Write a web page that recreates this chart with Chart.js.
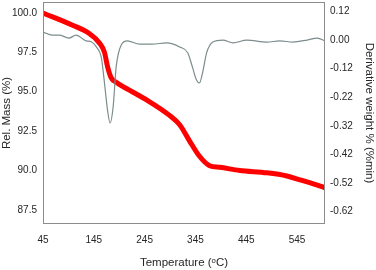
<!DOCTYPE html>
<html>
<head>
<meta charset="utf-8">
<script src="https://cdn.jsdelivr.net/npm/chart.js@4.4.0/dist/chart.umd.min.js"></script>
<style>
  html, body { margin: 0; padding: 0; background: #fff; }
  #wrap { width: 376px; height: 270px; position: relative; }
</style>
</head>
<body>
<div id="wrap"><canvas id="tga" width="376" height="270"></canvas></div>
<script>
// TGA curve (left axis)
const massTemps = [45, 102, 136, 156, 166, 172, 179, 189, 215, 248, 294, 314, 333, 353, 373, 393, 432, 486, 525, 551, 577, 600];
const massValues = [100.0, 99.24, 98.7, 98.1, 97.5, 96.6, 95.9, 95.6, 95.1, 94.5, 93.5, 92.9, 91.9, 90.9, 90.3, 90.2, 90.0, 89.85, 89.65, 89.4, 89.15, 88.9];

// DTG curve (right axis, in axis units where tick "0.00" = 0)
const derivTemps = [45, 63, 77, 96, 110, 130, 140, 150, 160, 166, 172, 177, 183, 189, 199, 211, 235, 260, 288, 314, 330, 339, 347, 353, 359, 367, 379, 399, 419, 446, 486, 511, 537, 565, 585, 600];
const derivValues = [0.028, 0.017, 0.017, 0.007, 0.017, -0.003, -0.006, -0.024, -0.063, -0.15, -0.245, -0.29, -0.234, -0.094, -0.017, -0.003, -0.014, -0.014, -0.01, -0.024, -0.045, -0.094, -0.14, -0.15, -0.115, -0.045, -0.007, 0.0, -0.01, 0.0, -0.007, -0.003, -0.007, 0.0, 0.007, -0.003];

const xTicks = [45, 145, 245, 345, 445, 545];
const leftTicks = [87.5, 90.0, 92.5, 95.0, 97.5, 100.0];
const rightTickPos = [0.1, 0, -0.1, -0.2, -0.3, -0.4, -0.5, -0.6];
const rightTickLabels = ['0.12', '0.00', '-0.12', '-0.22', '-0.32', '-0.42', '-0.52', '-0.62'];

const textColor = '#262626';
const frameColor = '#8c8c8c';
const font = { family: 'Liberation Sans', size: 10 };

const frame = {
  id: 'frame',
  afterDraw(chart) {
    const a = chart.chartArea, c = chart.ctx;
    c.save();
    c.strokeStyle = frameColor;
    c.lineWidth = 1;
    c.strokeRect(a.left + 0.5, a.top + 0.5, a.right - a.left - 1, a.bottom - a.top - 1);
    c.restore();
  }
};

function fitY(w) {
  return s => { s.width = w; s.paddingTop = 0; s.paddingBottom = 0; };
}

new Chart(document.getElementById('tga'), {
  type: 'line',
  data: {
    datasets: [
      {
        label: 'DTG',
        data: derivTemps.map((t, i) => ({ x: t, y: derivValues[i] })),
        yAxisID: 'y2',
        borderColor: '#7d8c8c',
        borderWidth: 1.2,
        pointRadius: 0,
        cubicInterpolationMode: 'monotone'
      },
      {
        label: 'Mass',
        data: massTemps.map((t, i) => ({ x: t, y: massValues[i] })),
        yAxisID: 'y',
        borderColor: '#ff0000',
        borderWidth: 5,
        pointRadius: 0,
        cubicInterpolationMode: 'monotone'
      }
    ]
  },
  options: {
    responsive: false,
    animation: false,
    devicePixelRatio: 1,
    layout: { padding: { top: 2, left: 0, right: 0, bottom: 0 } },
    plugins: { legend: { display: false }, tooltip: { enabled: false } },
    scales: {
      x: {
        type: 'linear',
        min: 45, max: 600,
        grid: { display: false, drawTicks: false },
        border: { display: false },
        afterBuildTicks: s => { s.ticks = xTicks.map(v => ({ value: v })); },
        afterFit: s => { s.height = 46; s.paddingLeft = 0; s.paddingRight = 0; },
        ticks: { color: textColor, font: font, padding: 10, maxRotation: 0, autoSkip: false },
        title: { display: true, text: 'Temperature (ᵒC)', color: textColor, font: { family: 'Liberation Sans', size: 11.5 }, padding: { top: 4, bottom: 0 } }
      },
      y: {
        position: 'left',
        min: 86.6, max: 100.7,
        grid: { display: false, drawTicks: false },
        border: { display: false },
        afterBuildTicks: s => { s.ticks = leftTicks.map(v => ({ value: v })); },
        afterFit: fitY(43),
        ticks: { color: textColor, font: font, padding: 6, autoSkip: false, callback: v => v.toFixed(1) },
        title: { display: true, text: 'Rel. Mass (%)', color: textColor, font: { family: 'Liberation Sans', size: 11.5 }, padding: { top: 0, bottom: 0 } }
      },
      y2: {
        position: 'right',
        min: -0.643, max: 0.133,
        grid: { display: false, drawTicks: false },
        border: { display: false },
        afterBuildTicks: s => { s.ticks = rightTickPos.map(v => ({ value: v })); },
        afterFit: fitY(51),
        ticks: { color: textColor, font: font, padding: 5, autoSkip: false, callback: (v, i) => rightTickLabels[i] },
        title: { display: true, text: 'Derivative weight % (%min)', color: textColor, font: { family: 'Liberation Sans', size: 11.5 }, padding: { top: 0, bottom: 0 } }
      }
    }
  },
  plugins: [frame]
});
</script>
</body>
</html>
